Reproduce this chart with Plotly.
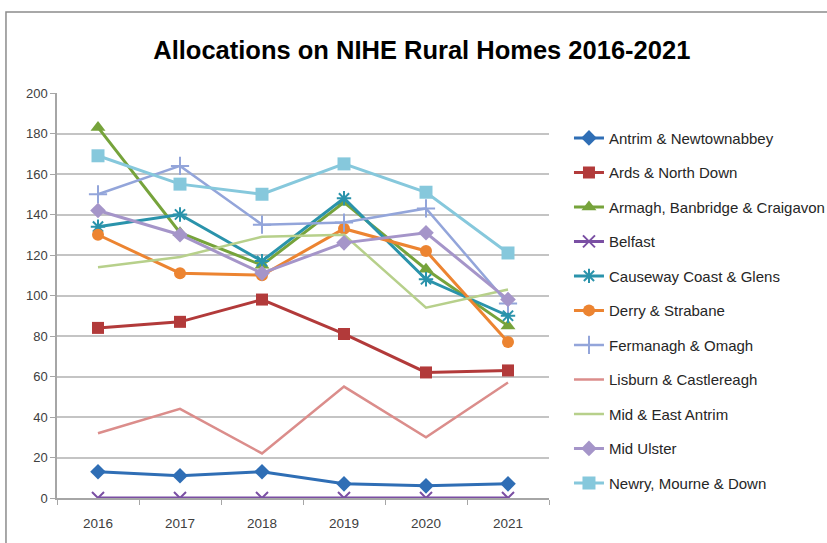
import plotly.graph_objects as go

years = ["2016", "2017", "2018", "2019", "2020", "2021"]

antrim = [13, 11, 13, 7, 6, 7]
ards = [84, 87, 98, 81, 62, 63]
armagh = [183, 131, 115, 146, 113, 85]
belfast = [0, 0, 0, 0, 0, 0]
causeway = [134, 140, 117, 148, 108, 90]
derry = [130, 111, 110, 133, 122, 77]
fermanagh = [150, 164, 135, 136, 143, 96]
lisburn = [32, 44, 22, 55, 30, 57]
mid_east_antrim = [114, 119, 129, 130, 94, 103]
mid_ulster = [142, 130, 111, 126, 131, 98]
newry = [169, 155, 150, 165, 151, 121]

series = [
    ("Antrim & Newtownabbey", antrim, "#2F6EB5", "diamond", 12, 3),
    ("Ards & North Down", ards, "#B23A3A", "square", 12, 3),
    ("Armagh, Banbridge & Craigavon", armagh, "#76A33B", "triangle-up", 13, 3),
    ("Belfast", belfast, "#7A4FA3", "x-thin-open", 12, 3),
    ("Causeway Coast & Glens", causeway, "#2A93AB", "asterisk-open", 12, 3),
    ("Derry & Strabane", derry, "#EC8431", "circle", 12, 3),
    ("Fermanagh & Omagh", fermanagh, "#93A5DA", "cross-thin-open", 13, 2.5),
    ("Lisburn & Castlereagh", lisburn, "#DB8D8B", None, 0, 2.5),
    ("Mid & East Antrim", mid_east_antrim, "#B7D08B", None, 0, 2.5),
    ("Mid Ulster", mid_ulster, "#A595C9", "diamond", 12, 3),
    ("Newry, Mourne & Down", newry, "#86C8DC", "square", 13, 3),
]

fig = go.Figure()
for i, (name, vals, color, sym, size, lw) in enumerate(series):
    if sym is None:
        mode = "lines"
        marker = dict()
    else:
        mode = "lines+markers"
        if sym.endswith("open"):
            marker = dict(symbol=sym, size=size, color=color,
                          line=dict(color=color, width=2))
        else:
            marker = dict(symbol=sym, size=size, color=color,
                          line=dict(width=0))
    fig.add_trace(go.Scatter(
        x=years, y=vals, name=name, mode=mode,
        line=dict(color=color, width=lw),
        marker=marker, legendgroup=f"g{i}",
    ))

fig.update_layout(
    width=827, height=543,
    margin=dict(l=57, r=278, t=93, b=45, autoexpand=False),
    paper_bgcolor="white", plot_bgcolor="white",
    font=dict(family="Liberation Sans, Arial", color="#404040", size=13),
    title=dict(text="<b>Allocations on NIHE Rural Homes 2016-2021</b>",
               x=0.51, xanchor="center", y=0.908, yanchor="middle",
               font=dict(size=25.5, color="#000000",
                         family="Liberation Sans, Arial")),
    showlegend=True,
    legend=dict(xref="container", yref="container",
                x=0.688, y=0.776, xanchor="left", yanchor="top",
                maxheight=520,
                traceorder="grouped", tracegroupgap=12,
                font=dict(size=15, color="#262626"),
                bgcolor="rgba(0,0,0,0)"),
    xaxis=dict(type="category", range=[-0.5, 5.5], showgrid=False, showline=True,
               linecolor="#A6A6A6", linewidth=1.5,
               ticks="outside", tickson="boundaries", ticklen=5,
               ticklabelstandoff=12,
               tickcolor="#A6A6A6", tickfont=dict(size=13.5, color="#404040")),
    yaxis=dict(range=[0, 200], dtick=20, showgrid=True, gridcolor="#C4C4C4",
               gridwidth=1.5, zeroline=False, showline=True,
               linecolor="#A6A6A6", linewidth=1.5, ticks="outside", ticklen=5,
               tickcolor="#A6A6A6", tickfont=dict(size=13, color="#404040")),
    shapes=[dict(type="rect", xref="paper", yref="paper",
                 x0=-0.1037, x1=1.7, y0=-0.3, y1=1.2,
                 line=dict(color="#8C8C8C", width=1.5), layer="below")],
)

fig.write_html("out.html", config={"displayModeBar": False},
               post_script="document.body.style.margin='0';")
